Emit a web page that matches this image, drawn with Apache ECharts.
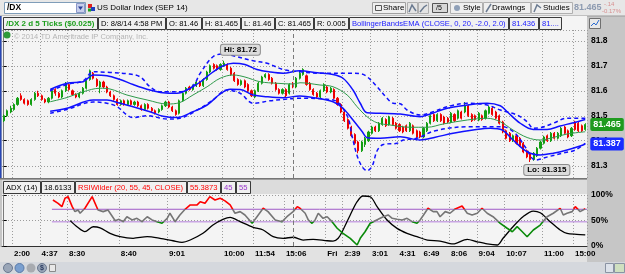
<!DOCTYPE html>
<html>
<head>
<meta charset="utf-8">
<script src="https://cdn.jsdelivr.net/npm/echarts@6/dist/echarts.min.js"></script>
<style>
html, body { margin: 0; padding: 0; background: #c6c6c6; }
#chart { width: 625px; height: 274px; }
</style>
</head>
<body>
<div id="chart"></div>
<script>
// /DX 5-tick candles
var opens = [81.480,81.500,81.515,81.525,81.545,81.580,81.565,81.560,81.545,81.565,81.590,81.580,81.565,81.555,81.570,81.605,81.590,81.575,81.600,81.625,
81.600,81.585,81.575,81.590,81.610,81.645,81.670,81.645,81.615,81.635,81.615,81.595,81.580,81.565,81.545,81.560,81.545,81.560,81.545,81.555,
81.540,81.525,81.545,81.530,81.520,81.515,81.525,81.540,81.555,81.535,81.520,81.510,81.560,81.590,81.615,81.605,81.620,81.635,81.620,81.645,
81.675,81.705,81.700,81.685,81.700,81.705,81.690,81.670,81.645,81.625,81.640,81.625,81.600,81.575,81.600,81.630,81.655,81.665,81.650,81.630,
81.605,81.590,81.605,81.590,81.630,81.615,81.650,81.665,81.660,81.630,81.605,81.590,81.575,81.600,81.615,81.595,81.605,81.570,81.545,81.515,
81.485,81.455,81.425,81.395,81.360,81.385,81.400,81.430,81.455,81.440,81.465,81.485,81.465,81.490,81.470,81.465,81.455,81.460,81.440,81.460,
81.440,81.435,81.415,81.440,81.470,81.505,81.480,81.505,81.495,81.490,81.475,81.505,81.490,81.515,81.515,81.540,81.505,81.500,81.483,81.500,
81.490,81.510,81.530,81.515,81.500,81.475,81.440,81.430,81.400,81.420,81.410,81.390,81.360,81.350,81.325,81.340,81.370,81.390,81.420,81.400,
81.430,81.410,81.420,81.455,81.440,81.420,81.475,81.470,81.460,81.445];
var closes = [81.500,81.520,81.530,81.545,81.570,81.565,81.550,81.545,81.565,81.590,81.580,81.565,81.555,81.570,81.600,81.590,81.575,81.600,81.630,81.605,
81.585,81.575,81.590,81.610,81.640,81.680,81.650,81.620,81.635,81.615,81.595,81.580,81.565,81.545,81.560,81.545,81.560,81.545,81.555,81.540,
81.525,81.545,81.530,81.520,81.510,81.525,81.540,81.555,81.535,81.520,81.505,81.560,81.590,81.610,81.605,81.620,81.635,81.620,81.645,81.675,
81.700,81.690,81.685,81.705,81.710,81.685,81.665,81.640,81.625,81.640,81.615,81.600,81.580,81.600,81.630,81.655,81.665,81.645,81.630,81.605,
81.590,81.605,81.580,81.625,81.615,81.650,81.670,81.685,81.625,81.605,81.585,81.575,81.600,81.625,81.595,81.610,81.570,81.545,81.515,81.480,
81.450,81.420,81.390,81.360,81.395,81.410,81.435,81.455,81.440,81.470,81.490,81.460,81.495,81.465,81.450,81.440,81.435,81.440,81.470,81.430,
81.415,81.415,81.450,81.470,81.500,81.480,81.505,81.480,81.470,81.475,81.510,81.480,81.520,81.490,81.540,81.500,81.480,81.485,81.510,81.485,
81.520,81.535,81.505,81.490,81.470,81.435,81.410,81.400,81.420,81.390,81.380,81.355,81.335,81.325,81.350,81.370,81.395,81.415,81.400,81.430,
81.410,81.430,81.450,81.430,81.415,81.450,81.445,81.440,81.440,81.465];
var lows = [81.475,81.495,81.510,81.520,81.540,81.560,81.545,81.540,81.540,81.560,81.575,81.560,81.550,81.550,81.565,81.580,81.570,81.570,81.595,81.600,
81.580,81.570,81.570,81.585,81.605,81.640,81.645,81.615,81.590,81.610,81.590,81.575,81.560,81.540,81.540,81.540,81.540,81.540,81.540,81.535,
81.520,81.520,81.525,81.515,81.505,81.510,81.520,81.535,81.530,81.515,81.500,81.505,81.555,81.585,81.600,81.600,81.615,81.615,81.615,81.640,
81.670,81.685,81.680,81.680,81.695,81.680,81.660,81.635,81.620,81.620,81.610,81.595,81.575,81.570,81.595,81.625,81.650,81.640,81.625,81.600,
81.585,81.585,81.575,81.585,81.610,81.610,81.645,81.660,81.620,81.600,81.580,81.570,81.570,81.595,81.590,81.590,81.565,81.540,81.510,81.475,
81.445,81.415,81.385,81.350,81.355,81.375,81.395,81.425,81.435,81.435,81.460,81.455,81.460,81.460,81.445,81.435,81.430,81.435,81.435,81.425,
81.410,81.410,81.410,81.435,81.465,81.475,81.475,81.475,81.465,81.470,81.470,81.475,81.485,81.485,81.510,81.495,81.475,81.480,81.478,81.480,
81.485,81.505,81.500,81.485,81.465,81.430,81.405,81.395,81.395,81.385,81.375,81.350,81.330,81.315,81.320,81.335,81.365,81.385,81.395,81.395,
81.405,81.405,81.415,81.425,81.410,81.415,81.440,81.435,81.435,81.440];
var highs = [81.505,81.525,81.540,81.550,81.575,81.590,81.570,81.565,81.570,81.595,81.600,81.585,81.570,81.575,81.610,81.610,81.595,81.605,81.635,81.630,
81.605,81.590,81.595,81.615,81.645,81.685,81.675,81.650,81.640,81.640,81.620,81.600,81.585,81.570,81.565,81.565,81.565,81.565,81.560,81.560,
81.545,81.550,81.550,81.535,81.525,81.530,81.545,81.560,81.560,81.540,81.525,81.565,81.595,81.615,81.620,81.625,81.640,81.640,81.650,81.680,
81.705,81.710,81.705,81.710,81.720,81.710,81.695,81.675,81.650,81.645,81.645,81.630,81.605,81.605,81.635,81.660,81.670,81.670,81.655,81.635,
81.610,81.610,81.610,81.630,81.635,81.655,81.675,81.690,81.665,81.635,81.610,81.595,81.605,81.630,81.620,81.615,81.610,81.575,81.550,81.520,
81.490,81.460,81.430,81.400,81.400,81.415,81.440,81.460,81.460,81.475,81.495,81.490,81.500,81.495,81.475,81.470,81.460,81.465,81.475,81.465,
81.445,81.440,81.455,81.475,81.505,81.510,81.510,81.510,81.500,81.495,81.515,81.510,81.525,81.520,81.555,81.545,81.510,81.505,81.515,81.505,
81.525,81.540,81.535,81.520,81.505,81.480,81.445,81.435,81.425,81.425,81.415,81.395,81.365,81.355,81.355,81.375,81.400,81.420,81.425,81.435,
81.435,81.435,81.455,81.460,81.445,81.455,81.480,81.475,81.465,81.470];

// Bollinger bands (EMA) sampled along the chart: [candle index, price]
var bandUpper = [[13.5,81.605],[18.4,81.630],[23.1,81.636],[26.0,81.663],[30.0,81.660],[33.8,81.645],[37.6,81.625],[42.5,81.603],[46.3,81.592],[50.4,81.590],
[54.2,81.610],[57.1,81.635],[60.8,81.675],[63.8,81.700],[66.7,81.710],[70.1,81.705],[73.6,81.685],[77.4,81.675],[81.2,81.670],[86.1,81.680],
[91.1,81.672],[95.7,81.665],[98.6,81.650],[101.5,81.603],[103.6,81.550],[105.6,81.512],[109.4,81.510],[115.2,81.507],[121.0,81.496],[123.9,81.507],
[128.9,81.530],[134.7,81.543],[140.5,81.550],[144.3,81.540],[146.3,81.516],[150.1,81.470],[153.9,81.445],[157.9,81.445],[161.7,81.459],[165.5,81.472],[169.0,81.485]];
var bandMid = [[13.5,81.556],[18.4,81.573],[23.1,81.596],[28.0,81.610],[30.9,81.607],[35.8,81.583],[41.7,81.563],[47.5,81.547],[51.2,81.553],[55.0,81.583],
[59.1,81.616],[62.9,81.650],[66.7,81.663],[70.1,81.655],[74.5,81.636],[79.4,81.630],[84.1,81.627],[86.1,81.632],[91.9,81.623],[95.7,81.616],
[99.8,81.583],[102.7,81.536],[105.6,81.496],[108.5,81.472],[112.3,81.463],[118.1,81.454],[123.1,81.454],[127.7,81.467],[134.7,81.483],[140.5,81.490],
[144.3,81.476],[148.0,81.443],[152.1,81.413],[155.9,81.403],[159.7,81.413],[163.7,81.427],[169.0,81.436]];
var bandLower = [[13.5,81.518],[18.4,81.530],[26.0,81.563],[30.0,81.563],[33.8,81.550],[37.6,81.536],[42.5,81.516],[46.3,81.498],[50.4,81.493],[55.0,81.516],
[59.1,81.543],[62.9,81.587],[65.8,81.606],[68.7,81.605],[72.5,81.583],[76.5,81.576],[81.2,81.572],[86.1,81.579],[91.1,81.570],[95.7,81.556],
[98.6,81.530],[101.5,81.483],[104.2,81.436],[105.6,81.412],[109.4,81.410],[115.2,81.416],[121.0,81.403],[125.4,81.414],[130.6,81.430],[136.4,81.443],
[141.4,81.450],[144.9,81.443],[148.0,81.403],[152.1,81.356],[155.9,81.343],[159.7,81.350],[163.7,81.363],[167.5,81.379],[169.0,81.387]];
// dashed outer envelope
var envUpper = [[13.5,81.600],[18.4,81.625],[23.1,81.640],[26.0,81.676],[30.9,81.673],[35.8,81.668],[39.6,81.656],[42.5,81.616],[45.4,81.596],[51.2,81.596],
[55.0,81.620],[57.1,81.670],[60.8,81.736],[63.8,81.747],[66.7,81.740],[72.5,81.720],[76.5,81.710],[81.2,81.685],[86.1,81.676],[91.9,81.670],
[99.8,81.670],[103.6,81.668],[105.6,81.656],[108.5,81.616],[111.4,81.570],[113.2,81.550],[115.2,81.548],[117.2,81.523],[121.0,81.503],[124.8,81.516],
[128.9,81.536],[134.7,81.550],[140.5,81.543],[144.3,81.523],[149.2,81.503],[152.1,81.476],[153.9,81.450],[155.9,81.452],[159.7,81.470],[163.7,81.490],[169.0,81.490]];
var envLower = [[13.5,81.510],[18.4,81.525],[26.0,81.555],[30.0,81.550],[33.0,81.536],[35.8,81.503],[37.6,81.493],[41.7,81.500],[47.5,81.487],[51.2,81.490],
[57.1,81.530],[60.8,81.563],[64.9,81.603],[68.7,81.590],[72.5,81.550],[77.4,81.560],[81.2,81.565],[86.1,81.570],[95.7,81.563],[99.8,81.500],
[101.2,81.420],[102.7,81.340],[104.2,81.295],[105.6,81.280],[107.1,81.300],[108.5,81.360],[110.3,81.385],[114.3,81.390],[116.1,81.403],[120.1,81.410],
[125.4,81.440],[135.0,81.456],[144.9,81.456],[148.6,81.430],[151.5,81.376],[154.5,81.323],[158.2,81.336],[162.3,81.350],[166.1,81.363],[169.0,81.390]];

// lower study: RSIWilder (20) and ADX (14)
var rsiPts = [[14.3,62.5],[15.8,59.8],[16.9,57.1],[17.8,63.9],[18.7,65.2],[19.9,57.1],[20.7,53.1],[21.6,54.4],[22.2,51.8],[23.6,55.8],
[25.7,65.2],[27.4,54.4],[28.9,53.1],[30.3,54.4],[32.4,45.8],[33.5,46.9],[34.7,45.0],[35.8,49.0],[37.3,46.4],[38.7,47.7],
[40.2,45.0],[41.7,49.0],[43.1,46.4],[44.6,45.0],[46.0,43.7],[47.5,47.7],[48.3,51.8],[49.8,45.0],[51.2,50.4],[52.7,55.0],
[54.2,58.5],[56.2,58.5],[57.1,61.1],[58.5,59.8],[59.9,65.2],[61.4,62.5],[62.9,63.9],[64.3,61.8],[65.8,58.5],[67.2,51.8],
[68.7,53.1],[70.1,50.4],[72.2,43.7],[73.6,49.0],[75.4,55.8],[76.8,53.1],[78.9,46.4],[80.9,45.0],[82.3,49.0],[84.1,53.1],
[85.3,57.1],[86.1,55.8],[87.6,51.8],[88.5,46.4],[89.6,43.7],[90.5,46.4],[91.4,51.8],[92.8,47.7],[94.0,49.0],[95.4,45.0],
[96.9,39.7],[98.6,35.6],[100.7,31.6],[102.7,26.2],[103.6,31.6],[105.0,36.9],[106.5,43.7],[107.4,45.0],[108.8,46.9],[110.3,49.0],
[111.7,50.4],[112.9,47.7],[114.3,46.9],[115.8,46.4],[117.2,47.7],[118.7,45.0],[120.1,43.7],[121.0,46.4],[122.0,50.4],[123.3,55.8],
[124.8,53.1],[125.9,53.1],[126.8,49.0],[128.3,53.1],[129.7,51.8],[131.2,55.3],[133.2,57.7],[134.7,51.8],[136.1,50.4],[137.6,51.8],
[139.0,55.8],[140.5,51.8],[142.2,49.0],[144.3,43.7],[146.3,39.7],[147.8,36.9],[149.2,41.0],[150.7,36.9],[152.1,32.9],[153.9,38.3],
[155.9,42.3],[157.9,49.0],[159.7,51.8],[161.7,55.8],[162.6,50.4],[163.7,51.8],[165.2,53.1],[166.1,57.1],[167.5,53.1],[169.0,55.4]];
var adxPts = [[19.3,28.4],[21.3,24.2],[23.6,20.8],[26.0,24.2],[28.0,23.5],[30.9,19.7],[33.8,17.4],[37.6,16.3],[41.7,17.4],[45.4,16.3],
[49.2,14.6],[51.8,13.5],[54.2,15.1],[57.9,19.7],[60.8,25.4],[63.7,29.3],[65.8,30.7],[68.7,27.7],[72.5,23.8],[75.4,22.0],
[78.3,17.4],[81.2,16.3],[84.1,17.0],[87.0,15.1],[89.9,15.6],[94.0,14.6],[95.7,14.4],[97.2,16.3],[98.6,22.0],[100.7,32.3],
[102.7,41.4],[104.4,45.3],[106.5,44.8],[108.5,38.0],[111.4,28.8],[114.3,23.1],[117.2,19.7],[120.1,17.4],[123.1,15.1],[126.8,14.4],
[130.6,12.4],[134.7,15.6],[137.6,13.9],[140.5,12.4],[143.4,11.7],[145.1,16.3],[148.0,24.2],[150.9,31.1],[153.9,35.0],[155.9,33.8],
[158.8,27.7],[161.7,22.0],[163.7,19.7],[166.5,19.0],[169.0,18.6]];
var rsiLevels = [55, 45];

// time axis labels (candle index where each label sits)
var tickIdx = [3, 11, 19, 34, 48, 64, 73, 82, 94, 99, 107, 115, 122, 130, 138, 146, 157, 166];
var tickText = ['2:00','4:37','8:30','8:40','9:01','10:00','11:54','15:06','Fri','2:39','3:01','4:31','6:49','8:06','9:04','10:07','11:00','15:00'];
var dayBreak = 84;

var N = opens.length;
var cats = opens.map(function (v, i) { return String(i); });
var candles = cats.map(function (c, i) { return [opens[i], closes[i], lows[i], highs[i]]; });
var hiIdx = highs.indexOf(Math.max.apply(null, highs));
var loIdx = lows.indexOf(Math.min.apply(null, lows));
var tickSet = {};
tickIdx.forEach(function (t) { tickSet[t] = true; });
function onTick(i) { return !!tickSet[i]; }

var FONT = '"Liberation Sans", Arial, sans-serif';
var font8 = '8px ' + FONT;
var fontCell = '7.6px ' + FONT;
var mctx = document.createElement('canvas').getContext('2d');
function textW(s, f) { mctx.font = f; return mctx.measureText(s).width; }

function box(x, y, w, h, fill, stroke, z) {
  return { type: 'rect', silent: true, z: z, shape: { x: x, y: y, width: w, height: h },
           style: { fill: fill || 'none', stroke: stroke || null, lineWidth: 1 } };
}
function label(x, y, s, color, f, z) {
  return { type: 'text', silent: true, z: z, x: x, y: y,
           style: { text: s, fill: color, font: f || font8, verticalAlign: 'middle', align: 'left' } };
}
// header boxes sized to their text
function cells(x, y, list) {
  var out = [];
  list.forEach(function (c) {
    var f = c[2] ? 'bold ' + font8 : fontCell;
    var w = Math.ceil(textW(c[0], f)) + 5;
    out.push(box(x + 0.5, y + 0.5, w, 12, '#f0f0f0', '#3a3a3a', 60));
    out.push(label(x + 3, y + 7, c[0], c[1], f, 61));
    x += w + 1;
  });
  return out;
}

var gfx = [
  // panels
  box(0, 0, 625, 16, '#e7e7e7', null, -1),
  box(0, 15.5, 625, 1, '#9a9a9a', null, -1),
  box(2, 16, 585, 162, '#f4f4f4', null, -1),
  box(2, 180, 585, 14, '#dcdcdc', null, -1),
  box(2, 194, 585, 52, '#f4f4f4', null, -1),
  box(0, 247, 587, 15, '#e2e2e2', null, -1),
  box(0, 262, 625, 12, '#d5d8dd', null, -1),
  box(0, 178, 587, 1.5, '#767676', null, 5),
  box(0, 16, 1.5, 162, '#2846b4', null, 5),
  // top toolbar
  box(4.5, 2.5, 81, 11, '#ffffff', '#7f9db9', 1),
  label(7, 8, '/DX', '#000', 'bold 8.5px ' + FONT, 2),
  box(76.5, 3.5, 8, 9, '#c8d0ec', '#8a96c8', 2),
  { type: 'polygon', silent: true, z: 3, shape: { points: [[78, 6.5], [83, 6.5], [80.5, 10]] }, style: { fill: '#2b3f95' } },
  box(88, 4, 4, 4, '#e02020', null, 2),
  box(91, 7, 4, 4, '#1f3fbf', null, 2),
  box(88, 8.5, 3, 3, '#20a020', null, 2),
  label(97, 8, 'US Dollar Index (SEP 14)', '#000', font8, 2),
  box(372.5, 2.5, 33, 11, '#efefef', '#a0a0a0', 1),
  box(375.5, 5.5, 6, 5, null, '#555', 2),
  label(383, 8, 'Share', '#000', font8, 2),
  box(407.5, 2.5, 10, 11, '#e4e4e4', '#b0b0b0', 1),
  box(418.5, 2.5, 10, 11, '#e4e4e4', '#b0b0b0', 1),
  { type: 'polyline', silent: true, z: 2, shape: { points: [[409, 12], [412, 5], [416, 11]] }, style: { stroke: '#6a7a90', lineWidth: 1.5 } },
  { type: 'polyline', silent: true, z: 2, shape: { points: [[420, 12], [424, 7], [427, 5]] }, style: { stroke: '#6a7a90', lineWidth: 1.5 } },
  box(432.5, 3.5, 15, 9, '#d8d8d8', '#555', 1),
  label(436, 8, '/5', '#000', '7px ' + FONT, 2),
  box(450.5, 2.5, 32, 11, '#efefef', '#b0b0b0', 1),
  { type: 'circle', silent: true, z: 2, shape: { cx: 457, cy: 8, r: 3 }, style: { fill: '#8fa0b8' } },
  label(463, 8, 'Style', '#000', font8, 2),
  box(483.5, 2.5, 47, 11, '#efefef', '#b0b0b0', 1),
  { type: 'line', silent: true, z: 2, shape: { x1: 486, y1: 12, x2: 491, y2: 4 }, style: { stroke: '#6a7a90', lineWidth: 1.5 } },
  label(492, 8, 'Drawings', '#000', font8, 2),
  box(531.5, 2.5, 41, 11, '#efefef', '#b0b0b0', 1),
  { type: 'polyline', silent: true, z: 2, shape: { points: [[534, 12], [537, 5], [541, 8]] }, style: { stroke: '#6a7a90', lineWidth: 1.5 } },
  label(543, 8, 'Studies', '#000', font8, 2),
  label(574, 8, '81.465', '#8c9ab0', 'bold 9px ' + FONT, 2),
  label(604, 4, '-.14', '#d89090', '6px ' + FONT, 2),
  label(602, 11.5, '-0.17%', '#d89090', '6px ' + FONT, 2),
  // chart panel extras
  { type: 'circle', silent: true, z: 2, shape: { cx: 7, cy: 35, r: 3.5 }, style: { fill: '#2f9a3a' } },
  label(14, 37, '\u00a9 2014 TD Ameritrade IP Company, Inc.', '#b4b4b4', '7.5px ' + FONT, 1),
  box(589.5, 18.5, 11, 10, '#e8e8e8', '#707070', 60),
  { type: 'polyline', silent: true, z: 61, shape: { points: [[591, 26], [594, 23], [596, 25], [599, 20]] }, style: { stroke: '#2a6ad0', lineWidth: 1 } },
  // bottom toolbar
  { type: 'circle', silent: true, z: 2, shape: { cx: 8, cy: 268, r: 4.5 }, style: { fill: '#9aa6b8', stroke: '#6a7890' } },
  { type: 'circle', silent: true, z: 2, shape: { cx: 19.5, cy: 268, r: 4.5 }, style: { fill: '#7a9fcf', stroke: '#5a7aa8' } },
  { type: 'circle', silent: true, z: 2, shape: { cx: 31, cy: 268, r: 4.5 }, style: { fill: '#a8abb0' } },
  { type: 'circle', silent: true, z: 2, shape: { cx: 42, cy: 268, r: 4.5 }, style: { fill: '#9aa6b8', stroke: '#6a7890' } },
  label(40, 268, '$', '#2a3a60', 'bold 7px ' + FONT, 3),
  box(49.5, 264.5, 6, 7, '#e8e8e8', '#8a8a8a', 2),
  box(605.5, 263.5, 8, 9, '#dde2ea', '#8a93a3', 2),
  box(614.5, 263.5, 10, 9, '#cfe0c0', '#8a93a3', 2)
];
gfx = gfx.concat(cells(3, 17, [
  ['/DX 2 d 5 Ticks ($0.025)', '#1b9e1b', true],
  ['D: 8/8/14 4:58 PM', '#000'],
  ['O: 81.46', '#000'],
  ['H: 81.465', '#000'],
  ['L: 81.46', '#000'],
  ['C: 81.465', '#000'],
  ['R: 0.005', '#000'],
  ['BollingerBandsEMA (CLOSE, 0, 20, -2.0, 2.0)', '#1a1aff'],
  ['81.436', '#1a1aff'],
  ['81....', '#1a1aff']
]));
gfx = gfx.concat(cells(3, 181, [
  ['ADX (14)', '#000'],
  ['18.6133', '#000'],
  ['RSIWilder (20, 55, 45, CLOSE)', '#ff0000'],
  ['55.3873', '#ff0000'],
  ['45', '#9933cc'],
  ['55', '#9933cc']
]));

var dotted = { type: [1, 2], color: '#9c9c9c', width: 1 };

function band(data, color, width, dashed) {
  return {
    type: 'line', xAxisIndex: 1, yAxisIndex: 0, data: data,
    showSymbol: false, symbol: 'none', smooth: 0.35, silent: true, z: 3,
    lineStyle: { color: color, width: width, type: dashed ? [4, 3] : 'solid' }
  };
}

var badge = function (bg) {
  return { show: true, position: 'right', distance: 5, color: '#fff', backgroundColor: bg,
           fontSize: 9, fontWeight: 'bold', padding: [2, 3], borderRadius: 2,
           formatter: function (p) { return p.value.toFixed(3); } };
};
var tag = { show: true, color: '#000', backgroundColor: '#dcdcdc', borderColor: '#8c8c8c',
            borderWidth: 1, borderRadius: 2, padding: [1, 3], fontSize: 8, fontWeight: 'bold', align: 'left' };

var lowerBandSeries = band(bandLower, '#1010ff', 1.5, false);
lowerBandSeries.markPoint = {
  symbol: 'rect', symbolSize: 0, silent: true,
  data: [{ coord: bandLower[bandLower.length - 1], value: bandLower[bandLower.length - 1][1], label: badge('#1a2cff') }]
};

var option = {
  animation: false,
  backgroundColor: '#c6c6c6',
  textStyle: { fontFamily: FONT },
  graphic: { elements: gfx },
  grid: [
    { left: 2, right: 38, top: 30, height: 148 },
    { left: 2, right: 38, top: 195, height: 51 }
  ],
  xAxis: [
    { type: 'category', gridIndex: 0, data: cats, boundaryGap: true,
      axisLine: { show: false }, axisTick: { show: false }, axisLabel: { show: false },
      splitLine: { show: true, interval: onTick, lineStyle: dotted } },
    { type: 'value', gridIndex: 0, min: -0.5, max: N - 0.5, show: false },
    { type: 'category', gridIndex: 1, data: cats, boundaryGap: true,
      axisLine: { lineStyle: { color: '#303030' } },
      axisTick: { interval: onTick, length: 3, lineStyle: { color: '#000' } },
      axisLabel: { interval: onTick, align: 'left', margin: 4, fontSize: 8, fontWeight: 'bold', color: '#000',
        formatter: function (v, i) { var k = tickIdx.indexOf(i); return k < 0 ? '' : tickText[k]; } },
      splitLine: { show: true, interval: onTick, lineStyle: dotted } },
    { type: 'value', gridIndex: 1, min: -0.5, max: N - 0.5, show: false }
  ],
  yAxis: [
    { type: 'value', gridIndex: 0, position: 'right', min: 81.251, max: 81.843, splitNumber: 6,
      axisLine: { show: true, lineStyle: { color: '#7a7a7a' } },
      axisTick: { show: true, length: 3, lineStyle: { color: '#000' } },
      axisLabel: { showMinLabel: false, showMaxLabel: false, margin: 4, fontSize: 8.5, fontWeight: 'bold', color: '#000',
        formatter: function (v) { return v.toFixed(1); } },
      splitLine: { lineStyle: dotted } },
    { type: 'value', gridIndex: 1, position: 'right', min: 0, max: 100, interval: 50,
      axisLine: { show: true, lineStyle: { color: '#7a7a7a' } },
      axisTick: { show: true, length: 3, lineStyle: { color: '#000' } },
      axisLabel: { margin: 4, fontSize: 8.5, fontWeight: 'bold', color: '#000', formatter: '{value}%' },
      splitLine: { lineStyle: dotted } },
    { type: 'value', gridIndex: 1, min: 25.4, max: 66.5, show: false },
    { type: 'value', gridIndex: 1, min: 11, max: 46, show: false }
  ],
  visualMap: [{
    type: 'piecewise', show: false, seriesIndex: 9, dimension: 1,
    pieces: [
      { lt: 45, color: '#0a8a0a' },
      { gte: 45, lte: 55, color: '#757575' },
      { gt: 55, color: '#ff0000' }
    ]
  }],
  series: [
    {
      type: 'candlestick', xAxisIndex: 0, yAxisIndex: 0, data: candles, barWidth: 1.6, z: 2, silent: true,
      itemStyle: { color: '#129e12', color0: '#ee0000', borderColor: '#129e12', borderColor0: '#ee0000', borderWidth: 1 },
      markPoint: {
        symbol: 'rect', symbolSize: 0, silent: true,
        data: [
          { coord: [cats[hiIdx], highs[hiIdx]], value: highs[hiIdx],
            label: Object.assign({}, tag, { position: 'top', distance: 6, offset: [-3, 0], formatter: 'Hi: {c}' }) },
          { coord: [cats[loIdx], lows[loIdx]], value: lows[loIdx],
            label: Object.assign({}, tag, { position: 'bottom', distance: 3, offset: [-6, 0], formatter: 'Lo: {c}' }) },
          { coord: [cats[N - 1], closes[N - 1]], value: closes[N - 1], label: badge('#1f9b1f') }
        ]
      },
      markLine: {
        symbol: ['none', 'none'], silent: true, label: { show: false },
        lineStyle: { type: [4, 3], color: '#7a7a7a', width: 1 },
        data: [{ xAxis: cats[dayBreak] }]
      }
    },
    band(envUpper, '#1010ff', 1.5, true),
    band(envLower, '#1010ff', 1.5, true),
    band(bandUpper, '#1010ff', 1.5, false),
    band(bandMid, '#2e9a4a', 1, false),
    lowerBandSeries,
    { type: 'line', xAxisIndex: 3, yAxisIndex: 2, data: [[14, rsiLevels[0]], [N - 0.5, rsiLevels[0]]],
      symbol: 'none', silent: true, lineStyle: { color: '#a05ac8', width: 1 } },
    { type: 'line', xAxisIndex: 3, yAxisIndex: 2, data: [[14, rsiLevels[1]], [N - 0.5, rsiLevels[1]]],
      symbol: 'none', silent: true, lineStyle: { color: '#c9a6e3', width: 1.5 } },
    { type: 'line', xAxisIndex: 3, yAxisIndex: 3, data: adxPts, symbol: 'none', smooth: 0.3, silent: true,
      lineStyle: { color: '#000', width: 1.3 },
      markLine: {
        symbol: ['none', 'none'], silent: true, label: { show: false },
        lineStyle: { type: [4, 3], color: '#7a7a7a', width: 1 },
        data: [{ xAxis: dayBreak }]
      } },
    { type: 'line', xAxisIndex: 3, yAxisIndex: 2, data: rsiPts, symbol: 'none', silent: true, z: 4,
      lineStyle: { width: 1.6 } }
  ]
};

var myChart = echarts.init(document.getElementById('chart'));
myChart.setOption(option);
</script>
</body>
</html>
